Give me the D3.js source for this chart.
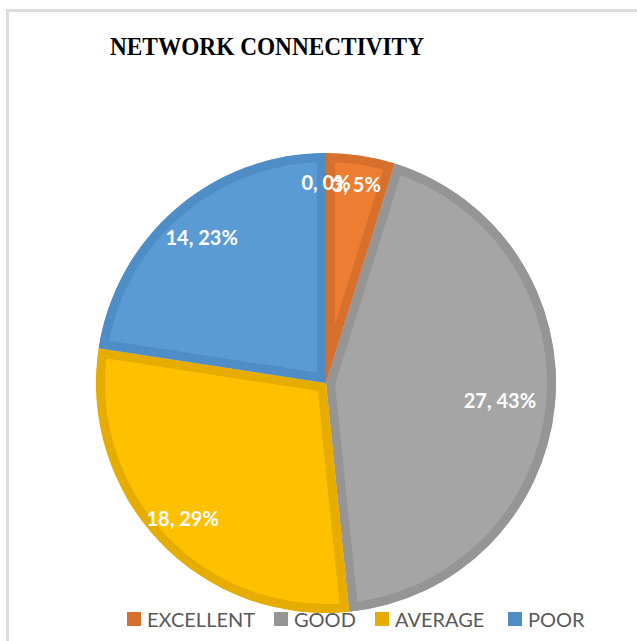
<!DOCTYPE html>
<html>
<head>
<meta charset="utf-8">
<script src="https://cdn.jsdelivr.net/npm/d3@7/dist/d3.min.js"></script>
<style>
  html, body { margin: 0; padding: 0; background: #fff; }
  svg { display: block; }
</style>
</head>
<body>
<svg id="chart" width="637" height="641"></svg>
<script>
// Survey responses on network connectivity
const categories = ["", "EXCELLENT", "GOOD", "AVERAGE", "POOR"];
const counts = [0, 3, 27, 18, 14];
const percentLabels = ["0%", "5%", "43%", "29%", "23%"];
const legendCategories = ["EXCELLENT", "GOOD", "AVERAGE", "POOR"];
const chartTitle = "NETWORK CONNECTIVITY";

// Slice styling: fill and a darker inner border of the same hue
const fillColors = ["#4472C4", "#ED7D31", "#A5A5A5", "#FFC000", "#5B9BD5"];
const edgeColors = ["#3A62A8", "#D6702C", "#959595", "#E6AD00", "#4F8DC6"];
// Radial position of each value label, as a fraction of the radius
const labelRadiusFrac = [0.87, 0.87, 0.76, 0.86, 0.83];

const svg = d3.select("#chart");
const W = 637, H = 641;

// chart frame (left and top edges visible)
svg.append("path")
  .attr("d", `M7.5,${H} L7.5,10.5 L${W},10.5`)
  .attr("fill", "none")
  .attr("stroke", "#dcdcdc")
  .attr("stroke-width", 3);

// title
svg.append("text")
  .attr("x", 267)
  .attr("y", 55)
  .attr("text-anchor", "middle")
  .attr("font-family", "'Liberation Serif', 'Times New Roman', serif")
  .attr("font-weight", "bold")
  .attr("font-size", 25)
  .attr("textLength", 314)
  .attr("lengthAdjust", "spacingAndGlyphs")
  .attr("fill", "#000")
  .text(chartTitle);

const cx = 326, cy = 383, R = 230, edgeW = 9;

const data = categories.map((c, i) => ({ name: c, value: counts[i], pct: percentLabels[i], i }));

const pie = d3.pie().value(d => d.value).sort(null);
const arcs = pie(data);
const arc = d3.arc().innerRadius(0).outerRadius(R);

const g = svg.append("g").attr("transform", `translate(${cx},${cy})`);
const defs = svg.append("defs");

arcs.forEach((a, k) => {
  if (a.data.value === 0) return;
  const id = "clip" + k;
  defs.append("clipPath").attr("id", id)
    .append("path").attr("d", arc(a));
  g.append("path")
    .attr("d", arc(a))
    .attr("fill", fillColors[a.data.i])
    .attr("stroke", edgeColors[a.data.i])
    .attr("stroke-width", edgeW * 2)
    .attr("stroke-linejoin", "miter")
    .attr("clip-path", `url(#${id})`);
});

// value labels
arcs.forEach(a => {
  const mid = (a.startAngle + a.endAngle) / 2;
  const r = R * labelRadiusFrac[a.data.i];
  g.append("text")
    .attr("x", Math.sin(mid) * r)
    .attr("y", -Math.cos(mid) * r)
    .attr("dy", "0.35em")
    .attr("text-anchor", "middle")
    .attr("font-family", "Lato, 'Open Sans', sans-serif")
    .attr("font-weight", "bold")
    .attr("font-size", 20)
    .attr("fill", "#fff")
    .text(`${a.data.value}, ${a.data.pct}`);
});

// legend
const legendPos = { "EXCELLENT": 127, "GOOD": 274, "AVERAGE": 375, "POOR": 508 };
const lg = svg.append("g");
legendCategories.forEach(name => {
  const i = categories.indexOf(name);
  const x = legendPos[name];
  lg.append("rect")
    .attr("x", x).attr("y", 612)
    .attr("width", 14).attr("height", 14)
    .attr("fill", edgeColors[i]);
  lg.append("text")
    .attr("x", x + 20).attr("y", 627)
    .attr("font-family", "Lato, 'Open Sans', sans-serif")
    .attr("font-size", 20)
    .attr("fill", "#595959")
    .text(name);
});
</script>
</body>
</html>
